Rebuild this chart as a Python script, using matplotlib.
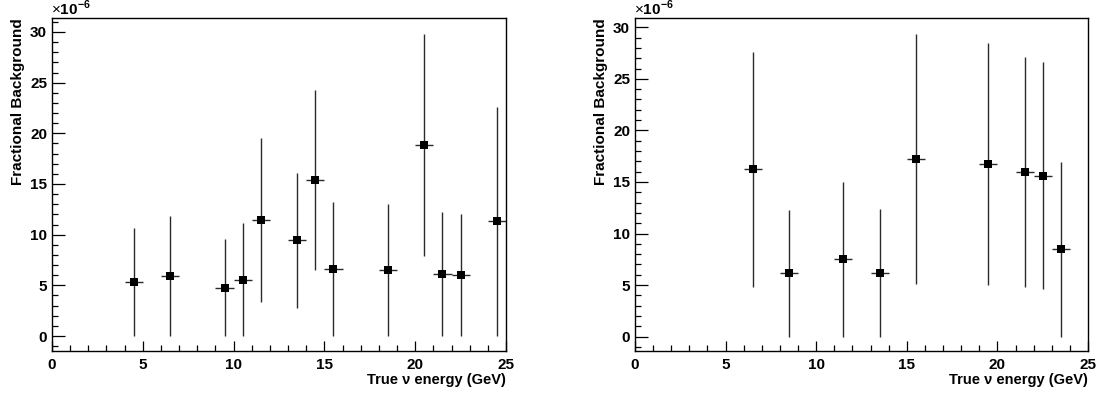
import matplotlib
matplotlib.use("Agg")
import matplotlib.pyplot as plt
from matplotlib.ticker import MultipleLocator
import numpy as np

plt.rcParams['font.family'] = ['Liberation Sans', 'DejaVu Sans']
plt.rcParams['mathtext.fontset'] = 'custom'
plt.rcParams['mathtext.rm'] = 'Liberation Sans'
plt.rcParams['mathtext.bf'] = 'Liberation Sans:bold'

# ---- data (fractional background, in units of 1e-6) ----
left_energy = [4.5, 6.5, 9.5, 10.5, 11.5, 13.5, 14.5, 15.5, 18.5, 20.5, 21.5, 22.5, 24.5]
left_value = [5.36, 5.92, 4.74, 5.56, 11.42, 9.48, 15.40, 6.61, 6.52, 18.89, 6.09, 5.99, 11.32]
left_upper = [10.66, 11.88, 9.54, 11.15, 19.50, 16.12, 24.28, 13.26, 13.03, 29.80, 12.24, 12.01, 22.64]
left_lower = [0.0, 0.0, 0.0, 0.0, 3.32, 2.76, 6.50, 0.0, 0.0, 7.93, 0.0, 0.0, 0.0]

right_energy = [6.5, 8.5, 11.5, 13.5, 15.5, 19.5, 21.5, 22.5, 23.5]
right_value = [16.24, 6.18, 7.57, 6.21, 17.24, 16.75, 15.97, 15.62, 8.54]
right_upper = [27.58, 12.29, 15.00, 12.36, 29.36, 28.52, 27.16, 26.64, 16.91]
right_lower = [4.85, 0.0, 0.0, 0.0, 5.11, 4.98, 4.79, 4.63, 0.0]

bin_half_width = 0.5
x_label = "True \u03bd energy (GeV)"
y_label = "Fractional Background"
exp_label = "\u00d7" + r"$\mathbf{10}^{\mathbf{-6}}$"

W, H = 1097, 397
fig = plt.figure(figsize=(W / 100, H / 100), dpi=100)

panels = [
    (left_energy, left_value, left_upper, left_lower, (52, 506), (-1.45, 31.35)),
    (right_energy, right_value, right_upper, right_lower, (635, 1088), (-1.36, 30.87)),
]

top_px, bot_px = 18.3, 350.7
for en, val, up, lo, (x0, x1), ylim in panels:
    ax = fig.add_axes([x0 / W, (H - bot_px) / H, (x1 - x0) / W, (bot_px - top_px) / H])
    en = np.asarray(en); val = np.asarray(val)
    yerr = np.vstack([val - np.asarray(lo), np.asarray(up) - val])
    ax.errorbar(en, val, yerr=yerr, xerr=bin_half_width, fmt='s', color='black',
                ecolor='#2a2a2a', elinewidth=1.0, capsize=0, markersize=5.4,
                markeredgewidth=0)
    ax.set_xlim(0, 25)
    ax.set_ylim(*ylim)
    ax.xaxis.set_major_locator(MultipleLocator(5))
    ax.xaxis.set_minor_locator(MultipleLocator(1))
    ax.yaxis.set_major_locator(MultipleLocator(5))
    ax.yaxis.set_minor_locator(MultipleLocator(1))
    ax.tick_params(which='both', direction='in', top=False, right=False, width=0.9,
                   labelsize=11)
    ax.tick_params(which='major', axis='y', length=9, pad=3.5)
    ax.tick_params(which='minor', axis='y', length=4.5)
    ax.tick_params(which='major', axis='x', length=7.5, pad=5)
    ax.tick_params(which='minor', axis='x', length=4)
    for lab in ax.get_xticklabels() + ax.get_yticklabels():
        lab.set_fontweight('bold')
    for s in ax.spines.values():
        s.set_linewidth(1.0)
    ax.set_xlabel(x_label, fontsize=10.5, fontweight='bold', loc='right', labelpad=1)
    ax.set_ylabel(y_label, fontsize=11, fontweight='bold', loc='top', labelpad=4)
    fig.text((x0 - 1) / W, (H - 15) / H, exp_label, fontsize=11,
             ha='left', va='baseline')

fig.savefig("out.png", dpi=100)
